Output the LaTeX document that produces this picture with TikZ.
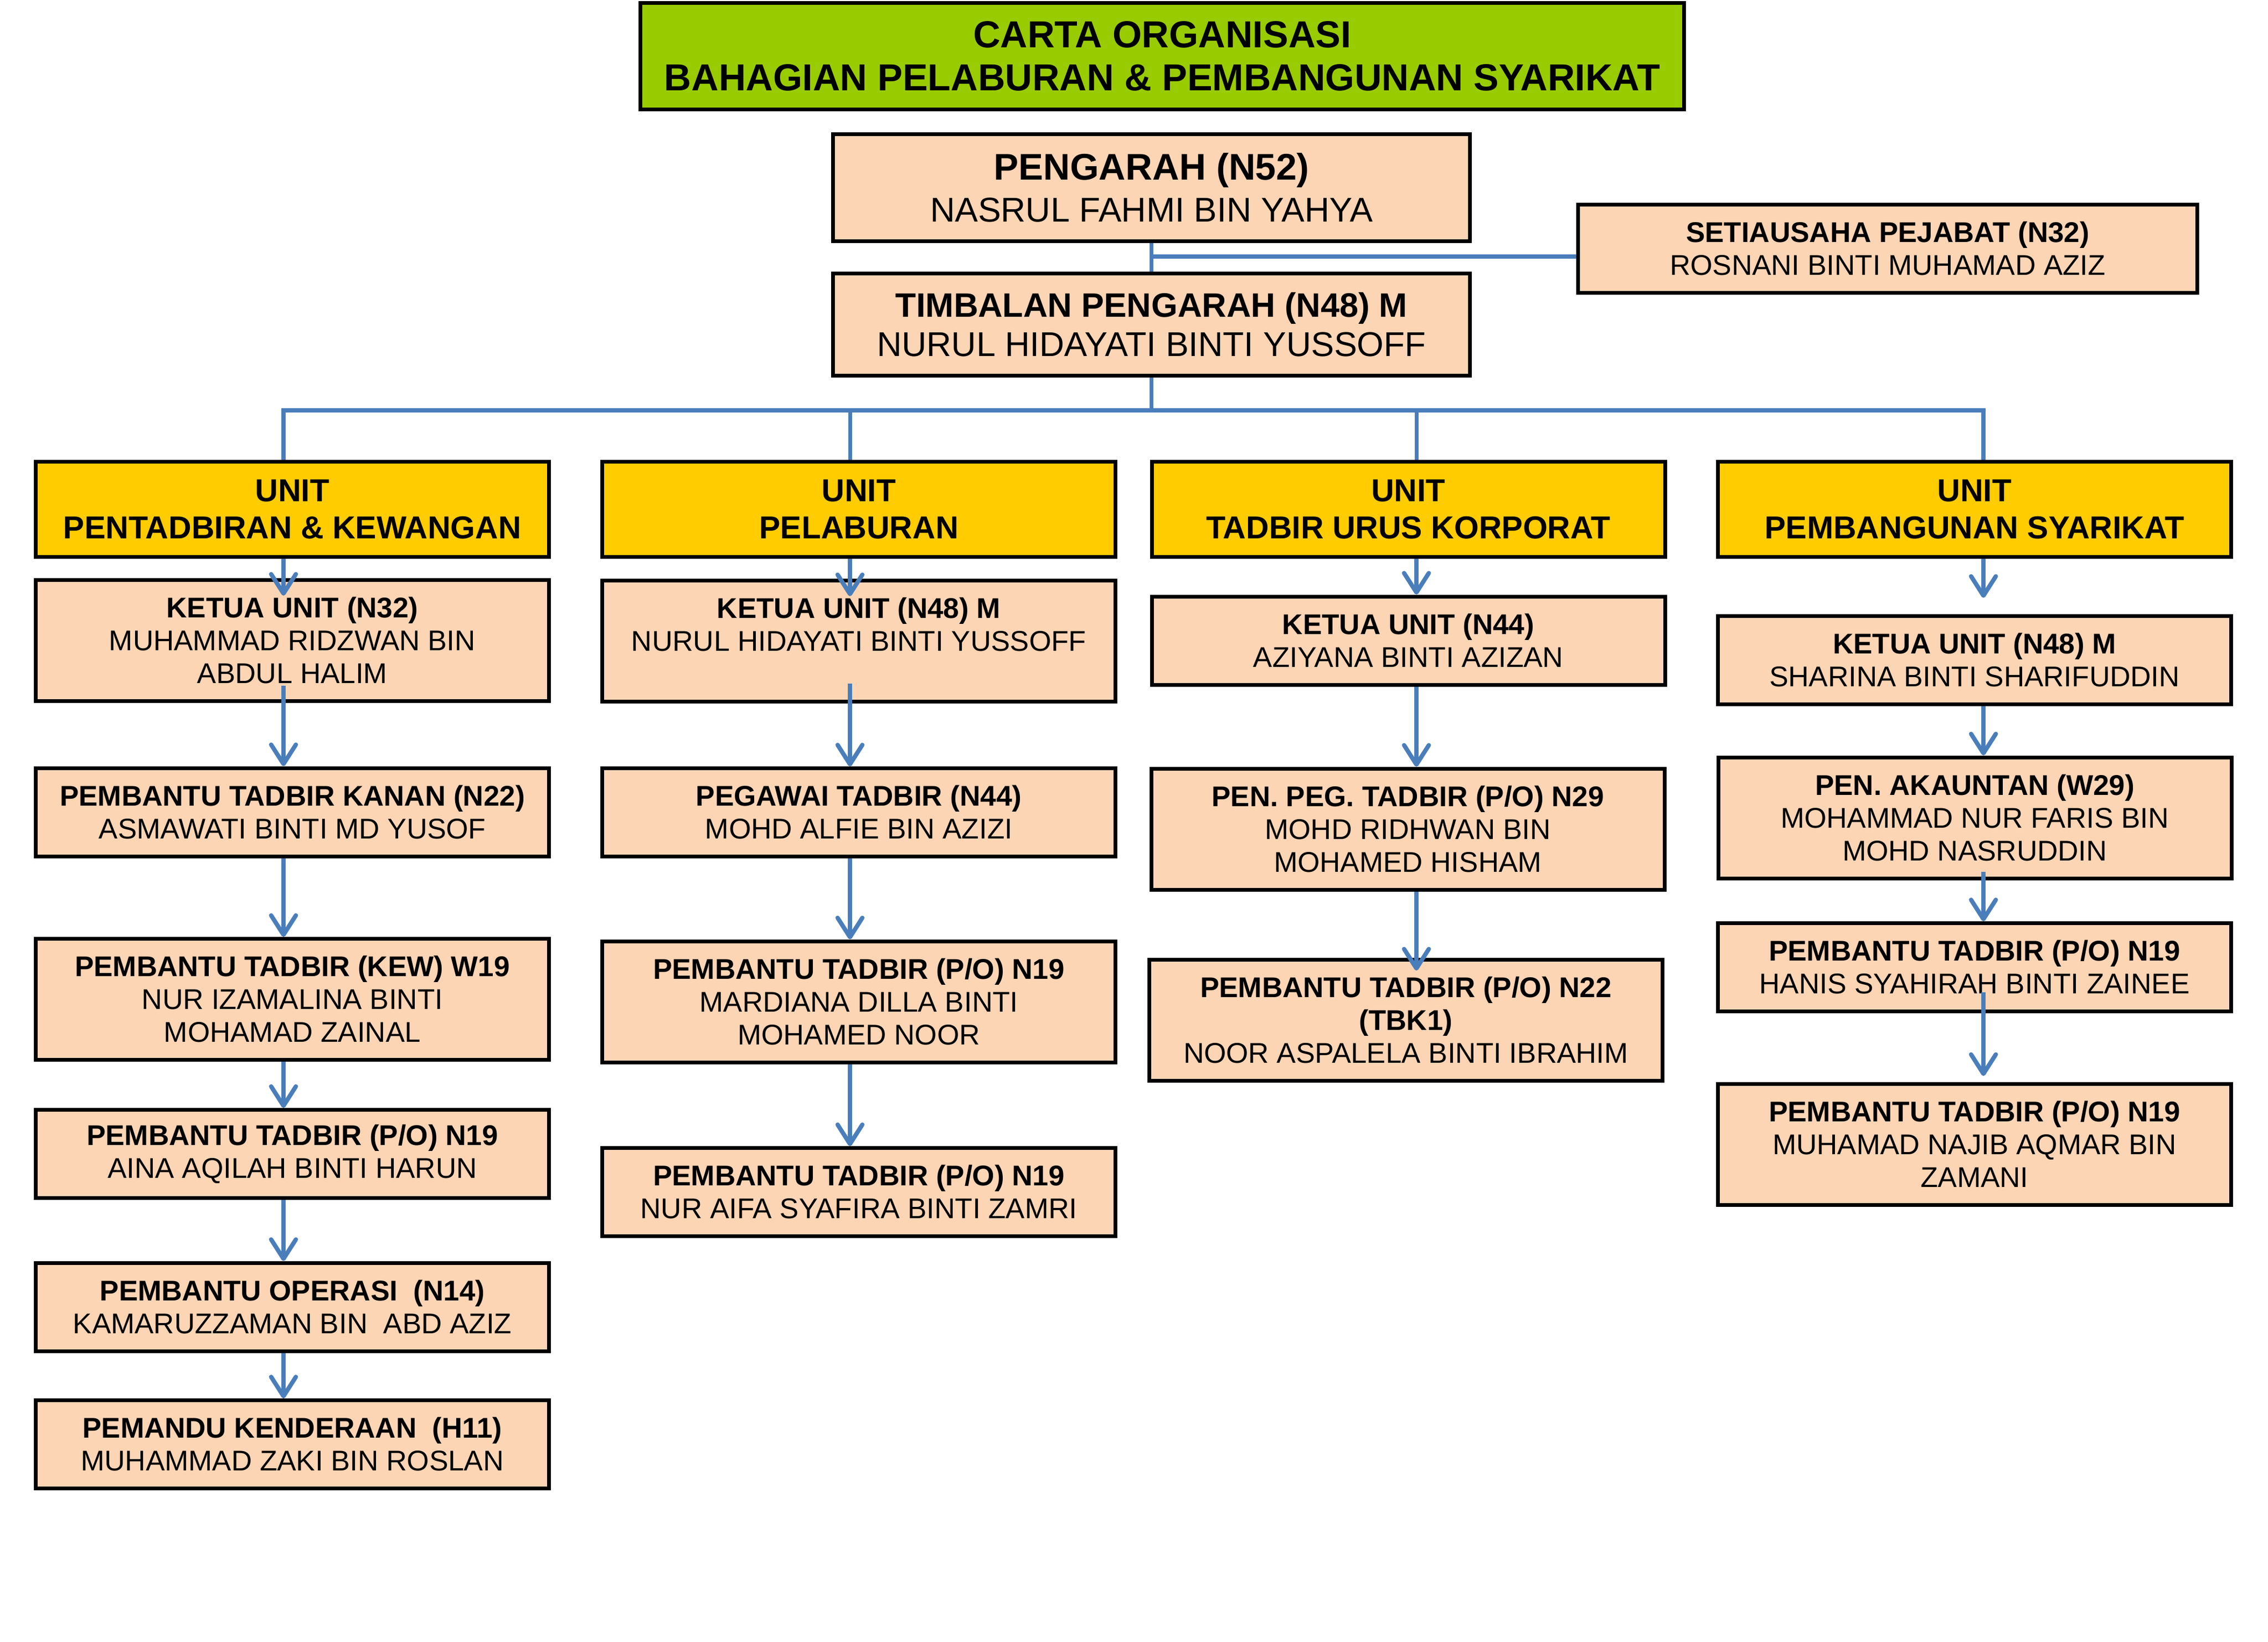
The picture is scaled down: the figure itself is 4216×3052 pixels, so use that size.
\documentclass[tikz,border=0pt]{standalone}
\usepackage{fontspec}
\setmainfont{Liberation Sans}
\usetikzlibrary{arrows.meta,calc}
\definecolor{peach}{HTML}{FCD5B5}
\definecolor{unitgold}{HTML}{FFCC00}
\definecolor{titlegreen}{HTML}{99CC00}
\definecolor{linkblue}{HTML}{4A7EBB}
\begin{document}
\begin{tikzpicture}[x=1pt,y=-1pt,
  box/.style={draw=black, line width=7pt, fill=peach, inner sep=0pt, align=center,
    font=\fontsize{53}{61}\selectfont, minimum width=954pt},
  twoline/.style={box, minimum height=164pt},
  threeline/.style={box, minimum height=225pt},
  unitbox/.style={box, fill=unitgold, minimum height=177pt,
    font=\fontsize{59}{69}\selectfont\bfseries},
  conn/.style={draw=linkblue, line width=7pt},
  busline/.style={draw=linkblue, line width=8pt, line join=miter},
  arr/.style={draw=linkblue, line width=8pt, -{Straight Barb[length=36pt,width=46pt,round]}}]
\useasboundingbox[fill=white] (0,0) rectangle (4216,3052);

% top
\node[box, fill=titlegreen, minimum width=1940pt, minimum height=198pt,
  font=\fontsize{70}{80}\selectfont\bfseries] (title) at (2160.5,104.5)
  {CARTA ORGANISASI\\BAHAGIAN PELABURAN \& PEMBANGUNAN SYARIKAT};
\node[box, minimum width=1184pt, minimum height=199pt, font=\fontsize{64}{78}\selectfont]
  (peng) at (2140.5,349)
  {{\fontsize{69}{78}\selectfont\bfseries PENGARAH (N52)}\\NASRUL FAHMI BIN YAHYA};
\node[box, minimum width=1184pt, minimum height=190pt, font=\fontsize{64}{73}\selectfont]
  (timb) at (2140.5,603.5)
  {{\fontsize{63}{73}\selectfont\bfseries TIMBALAN PENGARAH (N48) M}\\NURUL HIDAYATI BINTI YUSSOFF};
\node[twoline, minimum width=1151pt] (setia) at (3509,462.5)
  {\textbf{SETIAUSAHA PEJABAT (N32)}\\ROSNANI BINTI MUHAMAD AZIZ};

% units
\node[unitbox] (u1) at (543.5,947) {UNIT\\PENTADBIRAN \& KEWANGAN};
\node[unitbox] (u2) at (1596.5,947) {UNIT\\PELABURAN};
\node[unitbox] (u3) at (2618,947) {UNIT\\TADBIR URUS KORPORAT};
\node[unitbox] (u4) at (3670.5,947) {UNIT\\PEMBANGUNAN SYARIKAT};

% column 1
\node[threeline] (k1) at (543.5,1190.5) {\textbf{KETUA UNIT (N32)}\\MUHAMMAD RIDZWAN BIN\\ABDUL HALIM};
\node[twoline] (p1a) at (543.5,1510) {\textbf{PEMBANTU TADBIR KANAN (N22)}\\ASMAWATI BINTI MD YUSOF};
\node[threeline] (p1b) at (543.5,1858) {\textbf{PEMBANTU TADBIR (KEW) W19}\\NUR IZAMALINA BINTI\\MOHAMAD ZAINAL};
\node[twoline] (p1c) at (543.5,2145.5) {\textbf{PEMBANTU TADBIR (P/O) N19}\\AINA AQILAH BINTI HARUN};
\node[twoline] (p1d) at (543.5,2430) {\textbf{PEMBANTU OPERASI~~(N14)}\\KAMARUZZAMAN BIN~~ABD AZIZ};
\node[twoline] (p1e) at (543.5,2685.5) {\textbf{PEMANDU KENDERAAN~~(H11)}\\MUHAMMAD ZAKI BIN ROSLAN};

% column 2
\node[threeline] (k2) at (1596.5,1191.5) {\textbf{KETUA UNIT (N48) M}\\NURUL HIDAYATI BINTI YUSSOFF\\\mbox{}};
\node[twoline] (p2a) at (1596.5,1510.5) {\textbf{PEGAWAI TADBIR (N44)}\\MOHD ALFIE BIN AZIZI};
\node[threeline] (p2b) at (1596.5,1862.5) {\textbf{PEMBANTU TADBIR (P/O) N19}\\MARDIANA DILLA BINTI\\MOHAMED NOOR};
\node[twoline] (p2c) at (1596.5,2216.5) {\textbf{PEMBANTU TADBIR (P/O) N19}\\NUR AIFA SYAFIRA BINTI ZAMRI};

% column 3
\node[twoline] (k3) at (2618,1191) {\textbf{KETUA UNIT (N44)}\\AZIYANA BINTI AZIZAN};
\node[threeline] (p3a) at (2617,1541.5) {\textbf{PEN. PEG. TADBIR (P/O) N29}\\MOHD RIDHWAN BIN\\MOHAMED HISHAM};
\node[threeline] (p3b) at (2613.5,1896.5) {\textbf{PEMBANTU TADBIR (P/O) N22}\\\textbf{(TBK1)}\\NOOR ASPALELA BINTI IBRAHIM};

% column 4
\node[twoline] (k4) at (3670.5,1227) {\textbf{KETUA UNIT (N48) M}\\SHARINA BINTI SHARIFUDDIN};
\node[threeline] (p4a) at (3671,1520.5) {\textbf{PEN. AKAUNTAN (W29)}\\MOHAMMAD NUR FARIS BIN\\MOHD NASRUDDIN};
\node[twoline] (p4b) at (3670.5,1798.5) {\textbf{PEMBANTU TADBIR (P/O) N19}\\HANIS SYAHIRAH BINTI ZAINEE};
\node[threeline] (p4c) at (3670.5,2127.5) {\textbf{PEMBANTU TADBIR (P/O) N19}\\MUHAMAD NAJIB AQMAR BIN\\ZAMANI};

% connector helpers
\coordinate (c1) at (527,0);
\coordinate (c2) at (1580,0);
\coordinate (c3) at (2633,0);
\coordinate (c4) at (3687,0);
\coordinate (bus) at (0,763);
\coordinate (jS) at (2140.5,477);

% top connectors
\draw[conn] (peng.south) -- (timb.north);
\draw[busline] (jS) -- (jS -| setia.west);
\draw[conn] (timb.south) -- (timb.south |- bus);
\draw[busline] (c1 |- u1.north) -- (c1 |- bus) -- (c4 |- bus) -- (c4 |- u4.north);
\draw[conn] (c2 |- bus) -- (c2 |- u2.north);
\draw[conn] (c3 |- bus) -- (c3 |- u3.north);

% column 1 arrows
\draw[arr] (c1 |- u1.south) -- ($(c1 |- k1.north)+(0,33)$);
\draw[arr] ($(c1 |- k1.south)+(0,-32)$) -- (c1 |- p1a.north);
\draw[arr] (c1 |- p1a.south) -- (c1 |- p1b.north);
\draw[arr] (c1 |- p1b.south) -- (c1 |- p1c.north);
\draw[arr] (c1 |- p1c.south) -- (c1 |- p1d.north);
\draw[arr] (c1 |- p1d.south) -- (c1 |- p1e.north);

% column 2 arrows
\draw[arr] (c2 |- u2.south) -- ($(c2 |- k2.north)+(0,33)$);
\draw[arr] ($(c2 |- k2.south)+(0,-37)$) -- (c2 |- p2a.north);
\draw[arr] (c2 |- p2a.south) -- (c2 |- p2b.north);
\draw[arr] (c2 |- p2b.south) -- (c2 |- p2c.north);

% column 3 arrows
\draw[arr] (c3 |- u3.south) -- (c3 |- k3.north);
\draw[arr] (c3 |- k3.south) -- (c3 |- p3a.north);
\draw[arr] (c3 |- p3a.south) -- ($(c3 |- p3b.north)+(0,24)$);

% column 4 arrows
\draw[arr] (c4 |- u4.south) -- ($(c4 |- k4.north)+(0,-30)$);
\draw[arr] (c4 |- k4.south) -- (c4 |- p4a.north);
\draw[arr] ($(c4 |- p4a.south)+(0,-16)$) -- (c4 |- p4b.north);
\draw[arr] ($(c4 |- p4b.south)+(0,-39)$) -- ($(c4 |- p4c.north)+(0,-11)$);
\end{tikzpicture}
\end{document}
